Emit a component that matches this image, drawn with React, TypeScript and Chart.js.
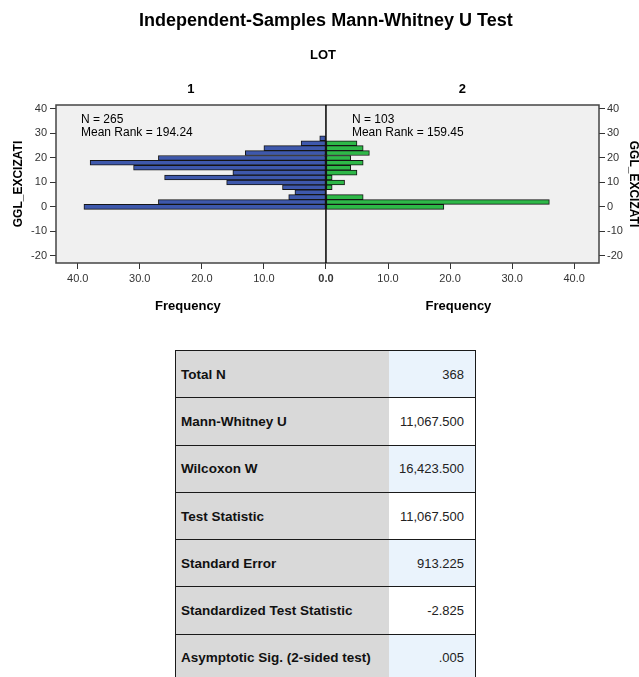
import React, { useEffect, useRef } from "react";
import { Chart, registerables } from "chart.js";

Chart.register(...registerables);

// ---- data ----
const binCenters = [0, 2, 4, 6, 8, 10, 12, 14, 16, 18, 20, 22, 24, 26, 28];
const lot1Counts = [39, 27, 6, 5, 7, 16, 26, 15, 31, 38, 27, 13, 10, 4, 1];
const lot2Counts = [19, 36, 6, 0, 1, 3, 1, 5, 4, 6, 4, 7, 6, 5, 0];
const yTicks = [-20, -10, 0, 10, 20, 30, 40];
const xTicks = [-40, -30, -20, -10, 0, 10, 20, 30, 40];
const groupLabels = ["1", "2"];
const groupN = ["N = 265", "N = 103"];
const groupMeanRank = ["Mean Rank = 194.24", "Mean Rank = 159.45"];
const tableLabels = [
  "Total N",
  "Mann-Whitney U",
  "Wilcoxon W",
  "Test Statistic",
  "Standard Error",
  "Standardized Test Statistic",
  "Asymptotic Sig. (2-sided test)",
];
const tableValues = ["368", "11,067.500", "16,423.500", "11,067.500", "913.225", "-2.825", ".005"];

const FONT = "Arial, 'Liberation Sans', Helvetica, sans-serif";

const decorPlugin = {
  id: "decor",
  beforeDraw(chart: any) {
    const { ctx, chartArea: a } = chart;
    ctx.save();
    ctx.fillStyle = "#f0f0f0";
    ctx.fillRect(a.left, a.top, a.right - a.left, a.bottom - a.top);
    ctx.restore();
  },
  afterDatasetsDraw(chart: any) {
    const { ctx, chartArea: a } = chart;
    const x0 = chart.scales.x.getPixelForValue(0);
    ctx.save();
    ctx.strokeStyle = "#444";
    ctx.lineWidth = 1.5;
    ctx.strokeRect(a.left, a.top, a.right - a.left, a.bottom - a.top);
    ctx.strokeStyle = "#000";
    ctx.lineWidth = 1.5;
    ctx.beginPath();
    ctx.moveTo(x0, a.top);
    ctx.lineTo(x0, a.bottom);
    ctx.stroke();
    ctx.restore();
  },
  afterDraw(chart: any) {
    const { ctx, chartArea: a, width } = chart;
    const x0 = chart.scales.x.getPixelForValue(0);
    const midY = (a.top + a.bottom) / 2;
    ctx.save();
    ctx.fillStyle = "#000";
    ctx.textBaseline = "middle";
    ctx.textAlign = "center";
    ctx.font = `bold 18px ${FONT}`;
    ctx.fillText("Independent-Samples Mann-Whitney U Test", x0, 21);
    ctx.font = `bold 13px ${FONT}`;
    ctx.fillText("LOT", x0 - 3, 55);
    const leftC = (a.left + x0) / 2;
    const rightC = (x0 + a.right) / 2;
    ctx.fillText(groupLabels[0], leftC, 89);
    ctx.fillText(groupLabels[1], rightC, 89);
    ctx.fillText("Frequency", leftC - 3, 306);
    ctx.fillText("Frequency", rightC - 4, 306);
    // axis titles
    ctx.font = `bold 12px ${FONT}`;
    ctx.save();
    ctx.translate(19, midY);
    ctx.rotate(-Math.PI / 2);
    ctx.fillText("GGL_EXCIZATI", 0, 0);
    ctx.restore();
    ctx.save();
    ctx.translate(width - 6, midY);
    ctx.rotate(Math.PI / 2);
    ctx.fillText("GGL_EXCIZATI", 0, 0);
    ctx.restore();
    // N / mean rank
    ctx.textAlign = "left";
    ctx.font = `12px ${FONT}`;
    ctx.fillText(groupN[0], a.left + 25, 120);
    ctx.fillText(groupMeanRank[0], a.left + 25, 133);
    ctx.fillText(groupN[1], x0 + 26, 120);
    ctx.fillText(groupMeanRank[1], x0 + 26, 133);
    ctx.restore();
  },
};

export default function App() {
  const ref = useRef<HTMLCanvasElement>(null);

  useEffect(() => {
    if (!ref.current) return;
    const yMin = -22.9;
    const yMax = 41.6;
    const tickFont = { family: FONT, size: 11 };
    const yScale = (pos: string, width: number, pad: number) => ({
      type: "linear",
      position: pos,
      min: yMin,
      max: yMax,
      offset: false,
      afterBuildTicks: (s: any) => {
        s.ticks = yTicks.map((v) => ({ value: v }));
      },
      afterFit: (s: any) => {
        s.width = width;
      },
      ticks: { color: "#333", padding: pad, font: tickFont, autoSkip: false },
      grid: {
        display: true,
        offset: false,
        drawOnChartArea: false,
        drawTicks: true,
        tickLength: 6,
        tickColor: "#333",
      },
      border: { display: false },
    });
    const chart = new Chart(ref.current, {
      type: "bar",
      data: {
        datasets: [
          {
            label: groupLabels[0],
            data: binCenters
              .map((b, i) => ({ y: b, x: -lot1Counts[i] }))
              .filter((p) => p.x !== 0),
            backgroundColor: "#3E58AC",
            borderColor: "#151515",
            borderWidth: 1,
            borderSkipped: false,
            barPercentage: 1,
            categoryPercentage: 1,
            grouped: false,
          } as any,
          {
            label: groupLabels[1],
            data: binCenters
              .map((b, i) => ({ y: b, x: lot2Counts[i] }))
              .filter((p) => p.x !== 0),
            backgroundColor: "#2EB848",
            borderColor: "#151515",
            borderWidth: 1,
            borderSkipped: false,
            barPercentage: 1,
            categoryPercentage: 1,
            grouped: false,
          } as any,
        ],
      },
      options: {
        indexAxis: "y",
        animation: false,
        responsive: false,
        maintainAspectRatio: false,
        layout: { padding: { top: 105, left: 0, right: 0, bottom: 0 } },
        plugins: {
          legend: { display: false },
          tooltip: { enabled: false },
          title: { display: false },
        },
        scales: {
          x: {
            type: "linear",
            position: "bottom",
            min: -43.5,
            max: 44,
            offset: false,
            afterBuildTicks: (s: any) => {
              s.ticks = xTicks.map((v) => ({ value: v }));
            },
            afterFit: (s: any) => {
              s.height = 67;
            },
            ticks: {
              color: "#333",
              padding: 3,
              maxRotation: 0,
              autoSkip: false,
              font: (c: any) =>
                c.tick && c.tick.value === 0
                  ? { ...tickFont, weight: "bold" }
                  : tickFont,
              callback: (v: any) => Math.abs(Number(v)).toFixed(1),
            },
            grid: {
              display: true,
              offset: false,
              drawOnChartArea: false,
              drawTicks: true,
              tickLength: 6,
              tickWidth: 1,
              tickColor: "#333",
            },
            border: { display: false },
          },
          y: yScale("left", 56, 3),
          y2: yScale("right", 40, 2),
        } as any,
      } as any,
      plugins: [decorPlugin],
    });
    return () => chart.destroy();
  }, []);

  const rowH = 47.3;
  return (
    <div
      style={{
        position: "absolute",
        left: 0,
        top: 0,
        width: 639,
        height: 677,
        overflow: "hidden",
        background: "#fff",
        fontFamily: FONT,
      }}
    >
      <canvas
        ref={ref}
        width={639}
        height={330}
        style={{ position: "absolute", left: 0, top: 0, width: 639, height: 330 }}
      />
      <div
        style={{
          position: "absolute",
          left: 175,
          top: 350,
          width: 299,
          borderLeft: "1.5px solid #1a1a1a",
          borderRight: "1.5px solid #1a1a1a",
          borderTop: "1.5px solid #1a1a1a",
        }}
      >
        {tableLabels.map((lab, i) => (
          <div
            key={lab}
            style={{
              display: "flex",
              height: rowH,
              boxSizing: "border-box",
              borderBottom: "1.5px solid #1a1a1a",
            }}
          >
            <div
              style={{
                width: 213,
                background: "#d9d9d9",
                display: "flex",
                alignItems: "center",
                paddingLeft: 5,
                boxSizing: "border-box",
                fontWeight: "bold",
                fontSize: 13.5,
                color: "#111",
              }}
            >
              {lab}
            </div>
            <div
              style={{
                flex: 1,
                background: i % 2 === 0 ? "#eaf3fc" : "#ffffff",
                display: "flex",
                alignItems: "center",
                justifyContent: "flex-end",
                paddingRight: 11,
                boxSizing: "border-box",
                fontSize: 13,
                color: "#222",
              }}
            >
              {tableValues[i]}
            </div>
          </div>
        ))}
      </div>
    </div>
  );
}
